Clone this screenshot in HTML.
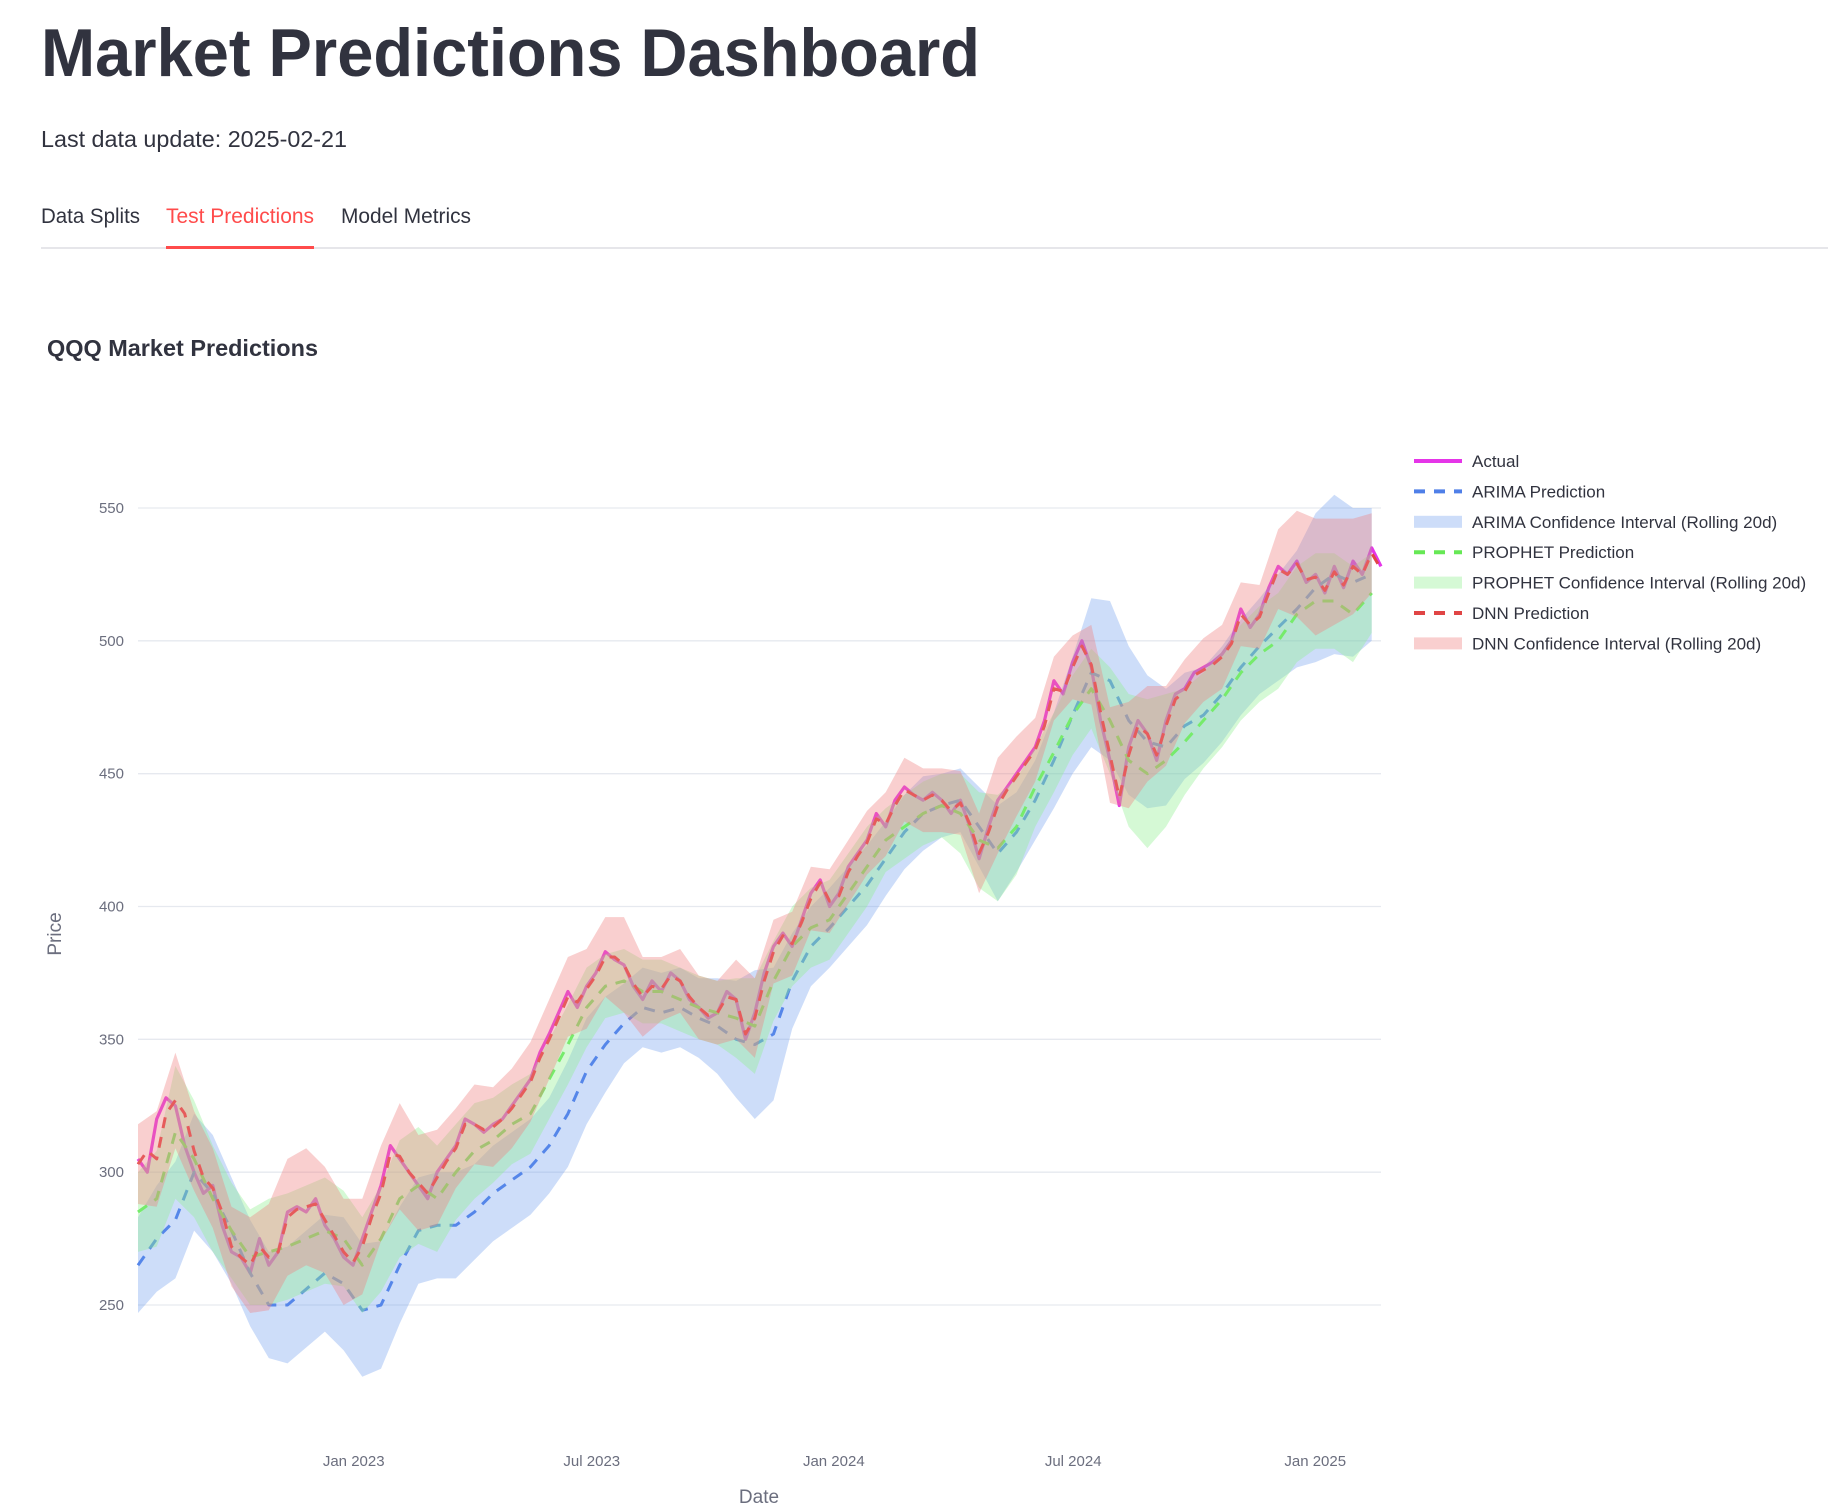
<!DOCTYPE html>
<html><head><meta charset="utf-8"><style>
html,body{margin:0;padding:0;background:#fff;}
svg{display:block;font-family:"Liberation Sans",sans-serif;}
</style></head><body>
<svg id="root" width="1828" height="1508" viewBox="0 0 1828 1508">
<text x="41" y="76" font-size="68" font-weight="bold" fill="#31333f" textLength="939" lengthAdjust="spacingAndGlyphs">Market Predictions Dashboard</text>
<text x="41" y="147" font-size="23" fill="#31333f" textLength="306" lengthAdjust="spacingAndGlyphs">Last data update: 2025-02-21</text>
<line x1="41" y1="248" x2="1828" y2="248" stroke="#e6e6ea" stroke-width="2"/>
<text x="41" y="223" font-size="21" fill="#31333f" textLength="99" lengthAdjust="spacingAndGlyphs">Data Splits</text>
<text x="166" y="223" font-size="21" fill="#ff4b4b" textLength="148" lengthAdjust="spacingAndGlyphs">Test Predictions</text>
<rect x="166" y="246" width="148" height="3" fill="#ff4b4b"/>
<text x="341" y="223" font-size="21" fill="#31333f" textLength="130" lengthAdjust="spacingAndGlyphs">Model Metrics</text>
<text x="47" y="356" font-size="23" font-weight="bold" fill="#31333f" textLength="271" lengthAdjust="spacingAndGlyphs">QQQ Market Predictions</text>
<g id="plot"></g>
<g id="legend"></g>
</svg>
<script>
const actual=[305,300,320,328,325,310,300,292,295,280,270,268,262,275,265,270,285,287,285,290,280,275,268,265,275,285,295,310,305,300,295,290,300,305,310,320,318,315,318,320,325,330,335,345,352,360,368,362,370,375,383,380,378,370,365,372,368,375,372,365,362,358,360,368,365,350,360,375,385,390,385,395,405,410,400,405,415,420,425,435,430,440,445,442,440,443,440,435,440,430,418,430,440,445,450,455,460,470,485,480,492,500,490,470,455,438,460,470,465,455,470,480,482,488,490,492,495,500,512,505,510,520,528,525,530,522,525,518,528,520,530,525,535,528];
const dnnPred=[303,308,305,322,327,322,308,298,294,285,272,268,265,272,268,270,283,286,287,288,282,276,270,266,272,283,292,307,306,300,296,292,298,304,309,318,318,316,317,320,324,329,334,343,350,358,366,364,369,374,381,381,378,371,366,370,369,374,372,366,362,359,360,366,365,352,358,372,383,389,386,394,403,409,402,404,413,419,424,433,431,438,444,442,440,442,440,436,439,431,420,428,438,444,449,454,459,468,482,481,490,498,491,473,457,441,457,468,465,457,468,478,481,487,489,491,494,499,510,506,509,518,527,525,529,523,524,519,526,521,528,525,533,527];
const arimaPred=[265,275,282,300,292,278,262,250,250,256,262,258,248,250,265,278,280,280,285,292,297,302,310,322,338,348,356,362,360,362,358,355,350,348,352,372,385,392,400,408,418,428,435,438,440,430,420,428,440,455,472,488,485,470,462,460,468,472,480,490,498,505,512,520,525,522,525];
const prophetPred=[285,290,315,305,290,278,268,270,272,275,278,275,265,275,290,295,290,300,308,312,318,322,335,348,362,370,372,368,368,365,362,360,358,355,372,385,392,395,405,415,425,430,435,438,435,425,422,430,445,458,472,482,470,455,450,455,462,470,478,488,495,500,510,515,515,510,518];
const arimaBand=[18,20,22,22,22,20,20,20,22,22,22,25,25,24,22,20,20,20,18,18,18,18,18,20,20,18,15,15,15,15,15,18,22,28,25,18,15,15,15,15,14,14,14,12,12,15,18,15,15,18,22,28,30,28,25,22,20,18,18,18,18,20,22,28,30,28,25];
const prophetBand=[15,18,25,22,20,18,18,20,20,20,20,18,18,20,22,22,20,18,18,16,15,15,15,15,15,12,12,12,12,12,12,12,15,18,15,15,15,15,15,15,12,12,12,12,15,18,20,18,15,15,15,15,20,25,28,25,20,18,18,18,18,18,18,18,18,18,15];
const dnnBand=[15,18,18,15,15,15,18,20,22,22,20,20,18,18,20,18,18,15,15,15,15,15,15,15,15,15,18,15,12,12,12,12,15,15,12,12,12,12,12,12,12,12,12,12,12,15,18,15,12,12,12,15,18,20,18,15,12,12,12,12,12,15,20,22,20,18,15];
const yTicks=[250,300,350,400,450,500,550];
const xTickLabels=["Jan 2023","Jul 2023","Jan 2024","Jul 2024","Jan 2025"];
const xTickDates=["2023-01-01","2023-07-01","2024-01-01","2024-07-01","2025-01-01"];
const startDate="2022-07-21", endDate="2025-02-20";

const NS="http://www.w3.org/2000/svg";
const plot=document.getElementById('plot'), legend=document.getElementById('legend');
const X0=138,X1=1381,T0=Date.parse(startDate),T1=Date.parse(endDate);
const xT=t=>X0+(t-T0)/(T1-T0)*(X1-X0);
const step=(T1-T0)/(actual.length-1);
const xi=i=>xT(T0+i*step);
const y=v=>508+(550-v)*(797/300);
function mk(tag,attrs,parent){const e=document.createElementNS(NS,tag);for(const k in attrs)e.setAttribute(k,attrs[k]);parent.appendChild(e);return e;}
yTicks.forEach(v=>{
 const g=mk('line',{x1:X0,x2:X1,y1:y(v),y2:y(v),stroke:'#e6e9ef','stroke-width':1.3},plot);
 
 
 const t=mk('text',{x:124,y:y(v)+5,'font-size':15,fill:'#6b6e7e','text-anchor':'end'},plot);t.textContent=v;
 
 
});
xTickLabels.forEach((l,k)=>{
 const t=mk('text',{x:xT(Date.parse(xTickDates[k])),y:1466,'font-size':15,fill:'#6b6e7e','text-anchor':'middle'},plot);t.textContent=l;
 
 
});
let t=mk('text',{x:759,y:1503,'font-size':19,fill:'#6b6e7e','text-anchor':'middle'},plot);t.textContent='Date';


t=mk('text',{x:61,y:934,'font-size':19,fill:'#6b6e7e','text-anchor':'middle',transform:'rotate(-90 61 934)'},plot);t.textContent='Price';



function line(vals,xf,color,w,dash,name){
 const p=mk('path',{d:vals.map((v,i)=>(i?'L':'M')+xf(i).toFixed(1)+','+y(v).toFixed(1)).join(''),fill:'none',stroke:color,'stroke-width':w,'stroke-dasharray':dash||'none','stroke-linejoin':'round'},plot);
 
 
}
function band(vals,wid,xf,fill,name){
 let d=vals.map((v,i)=>(i?'L':'M')+xf(i).toFixed(1)+','+y(v+wid[i]).toFixed(1)).join('');
 for(let i=vals.length-1;i>=0;i--)d+='L'+xf(i).toFixed(1)+','+y(vals[i]-wid[i]).toFixed(1);
 const p=mk('path',{d:d+'Z',fill:fill,stroke:'none'},plot);
 
 
}
const xh=i=>xi(i*2);
const dnnHalf=dnnPred.filter((v,i)=>i%2===0);
line(actual,xi,'#e535e8',3.2,null,'actual-line');
line(arimaPred,xh,'#4f7fe8',3,'11,9','arima-prediction-line');
band(arimaPred,arimaBand,xh,'rgba(100,149,237,0.32)','arima-confidence-band');
line(prophetPred,xh,'#66e855',3,'11,9','prophet-prediction-line');
band(prophetPred,prophetBand,xh,'rgba(144,238,144,0.38)','prophet-confidence-band');
line(dnnPred,xi,'#e04545',3,'11,9','dnn-prediction-line');
band(dnnHalf,dnnBand,xh,'rgba(240,128,128,0.38)','dnn-confidence-band');

const legItems=[['Actual','line','#e535e8',null],['ARIMA Prediction','line','#4f7fe8','11,9'],['ARIMA Confidence Interval (Rolling 20d)','band','rgba(100,149,237,0.32)'],['PROPHET Prediction','line','#66e855','11,9'],['PROPHET Confidence Interval (Rolling 20d)','band','rgba(144,238,144,0.38)'],['DNN Prediction','line','#e04545','11,9'],['DNN Confidence Interval (Rolling 20d)','band','rgba(240,128,128,0.38)']];
legItems.forEach((it,k)=>{
 const cy=461+k*30.4;
 const g=mk('g',{},legend);
 
 
 if(it[1]==='line')mk('line',{x1:1414,x2:1462,y1:cy,y2:cy,stroke:it[2],'stroke-width':4,'stroke-dasharray':it[3]||'none'},g);
 else mk('rect',{x:1414,y:cy-6,width:48,height:12,fill:it[2]},g);
 const tx=mk('text',{x:1472,y:cy+6,'font-size':17,fill:'#31333f'},g);tx.textContent=it[0];
});
</script>
</body></html>
